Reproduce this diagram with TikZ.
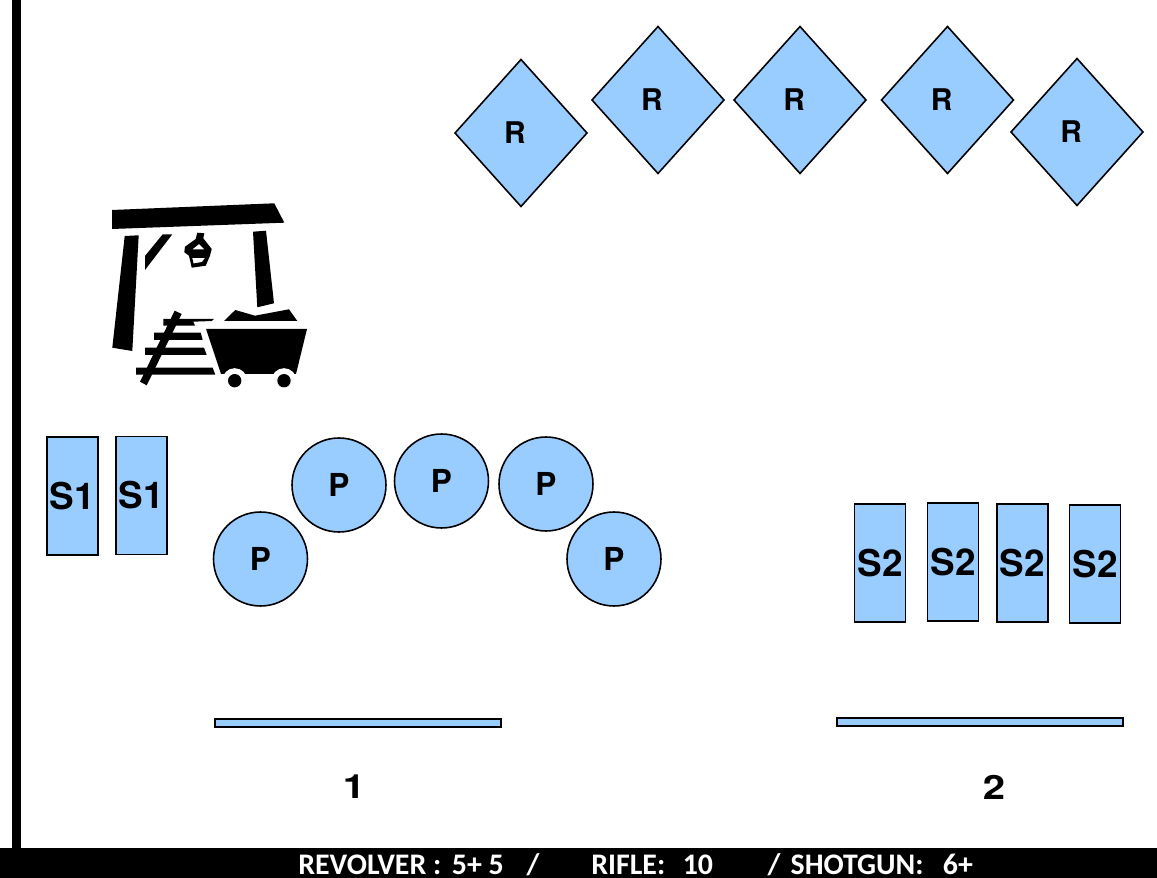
\documentclass[tikz,border=0pt]{standalone}
\usepackage{fontspec}
\usepackage{tikz,color}
\usetikzlibrary{shapes.geometric}
\setmainfont{TeX Gyre Heros}
\newfontfamily\footfont{Carlito}
\definecolor{teamblue}{HTML}{99CCFF}
\tikzset{
  tgt/.style={draw=black,fill=teamblue,line width=0.9pt,inner sep=0pt,outer sep=0pt},
  rtarget/.style={tgt,diamond,minimum width=2.64cm,minimum height=2.94cm,font=\fontsize{17}{17}\selectfont\bfseries},
  ptarget/.style={tgt,circle,minimum size=1.88cm,font=\fontsize{18}{18}\selectfont\bfseries},
  starget/.style={tgt,rectangle,minimum width=1.02cm,minimum height=2.36cm,font=\fontsize{21}{21}\selectfont\bfseries},
  table/.style={tgt,rectangle,minimum width=5.72cm,minimum height=0.16cm},
  bay/.style={font=\fontsize{19}{19}\selectfont\bfseries},
  mine/.style={fill=black,draw=none}
}
\newcommand{\rtext}{R\hspace{6.8pt}\mbox{}}
\newcommand{\stext}[1]{\raisebox{-2.2pt}{#1}}
\newcommand{\bayno}[1]{\scalebox{1.2}[1]{#1}}
\begin{document}
\begin{tikzpicture}[x=0.02cm,y=-0.02cm]
\useasboundingbox (0,0) rectangle (1157,878);
% range edge and footer
\fill (12,0) rectangle (21,850);
\fill (0,848) rectangle (1157,878);
\node [anchor=west,text=white,inner sep=0pt,font=\footfont\bfseries\fontsize{17}{17}\selectfont] (guns) at (298,865) {REVOLVER :\hspace{6pt}5+ 5\hspace{13pt}/\hspace{29.5pt}RIFLE:\hspace{10pt}10\hspace{31pt}/\hspace{2pt} SHOTGUN:\hspace{11pt}6+};
% rifle targets
\node [rtarget] (r1) at (521,133) {\rtext};
\node [rtarget] (r2) at (658,100) {\rtext};
\node [rtarget] (r3) at (800,100) {\rtext};
\node [rtarget] (r4) at (947.5,100) {\rtext};
\node [rtarget] (r5) at (1077,132) {\rtext};
% shotgun targets
\node [starget] (s1a) at (72.5,496) {\stext{S1}};
\node [starget] (s1b) at (141.5,495.5) {\stext{S1}};
\node [starget] (s2a) at (880,563) {\stext{S2}};
\node [starget] (s2b) at (953,562) {\stext{S2}};
\node [starget] (s2c) at (1022.5,563) {\stext{S2}};
\node [starget] (s2d) at (1095,564) {\stext{S2}};
% pistol targets
\node [ptarget] (p1) at (260.5,559) {P};
\node [ptarget] (p2) at (339,485) {P};
\node [ptarget] (p3) at (441.5,481) {P};
\node [ptarget] (p4) at (546,484) {P};
\node [ptarget] (p5) at (614,559) {P};
% tables
\node [table] (t1) at (358,723) {};
\node [table] (t2) at (980,722) {};
\node [bay] (n1) at (354,787) {\bayno{1}};
\node [bay] (n2) at (994,787) {\bayno{2}};
% mine
\fill [mine] (112,210) -- (274.3,203.3) -- (284.3,222.7) -- (112,229) -- cycle;
\fill [mine] (124.7,236) -- (138.7,235.3) -- (132.3,351) -- (112.3,347.7) -- cycle;
\fill [mine] (162.7,234.3) -- (172.3,234.3) -- (145,270) -- (145,256) -- cycle;
\fill [mine] (253,231.7) -- (266,230.7) -- (274,303.3) -- (257.3,307.3) -- cycle;
\fill [mine,even odd rule] (197.3,232.7) -- (204.3,233.3) -- (203.3,238.3) -- (211.7,249) -- (210,255.7) -- (205.7,265.7) -- (191.7,267.7) -- (189,255.7) -- (184.3,252.3) -- (185,246.7) -- (195.7,239) -- cycle
  (192.3,249.3) -- (199,244) -- (204.5,249.3) -- cycle
  (192.3,258) -- (205,258) -- (202,262) -- (193.5,263.5) -- cycle;
\fill [mine] (224,321) -- (235.3,310) -- (255,315.7) -- (289,309.3) -- (297.3,321) -- cycle;
\fill [mine] (206,329) -- (307,329) -- (296,374) -- (221,374) -- cycle;
\fill [white] (234.7,380.7) circle (12.5);
\fill [white] (284,380.7) circle (12.5);
\fill [mine] (234.7,380.7) circle (6.7);
\fill [mine] (284,380.7) circle (6.7);
\fill [mine] (163.3,319) -- (214,319) -- (211.7,321) -- (193.3,321.7) -- (195,325.7) -- (163.3,325.7) -- cycle;
\fill [mine] (154,332.7) -- (200.7,332.7) -- (202.7,340) -- (154,340) -- cycle;
\fill [mine] (145,347.7) -- (204,347.7) -- (206.7,355) -- (145,355) -- cycle;
\fill [mine] (136,367.7) -- (212.7,367.7) -- (215.3,374.7) -- (136,374.7) -- cycle;
\fill [mine] (174.7,310.7) -- (181.7,314) -- (146.7,385.3) -- (140,381.7) -- cycle;
\end{tikzpicture}
\end{document}
